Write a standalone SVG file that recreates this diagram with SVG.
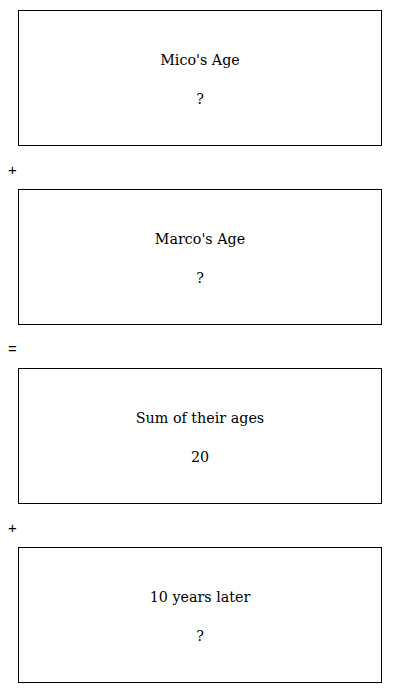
<svg xmlns="http://www.w3.org/2000/svg" width="400" height="693" viewBox="0 0 400 693">
<style>
.box{fill:#fff;stroke:#000;stroke-width:1}
.t{font-family:"DejaVu Serif",serif;font-size:14.3px;fill:#000;text-anchor:middle}
.op{font-family:"Liberation Sans","DejaVu Sans",sans-serif;font-size:15px;fill:#000}
</style>
<rect width="400" height="693" fill="#fff"/>
<g id="mico">
<rect class="box" x="18.5" y="10.5" width="363" height="135"/>
<text class="t" x="200" y="65">Mico's Age</text>
<text class="t" x="200" y="104">?</text>
</g>
<g id="marco">
<rect class="box" x="18.5" y="189.5" width="363" height="135"/>
<text class="t" x="200" y="244">Marco's Age</text>
<text class="t" x="200" y="283">?</text>
</g>
<g id="sum">
<rect class="box" x="18.5" y="368.5" width="363" height="135"/>
<text class="t" x="200" y="423">Sum of their ages</text>
<text class="t" x="200" y="462">20</text>
</g>
<g id="later">
<rect class="box" x="18.5" y="547.5" width="363" height="135"/>
<text class="t" x="200" y="602">10 years later</text>
<text class="t" x="200" y="641">?</text>
</g>
<g id="connectors">
<text class="op" x="8" y="175">+</text>
<text class="op" x="8" y="354">=</text>
<text class="op" x="8" y="533">+</text>
</g>
</svg>
